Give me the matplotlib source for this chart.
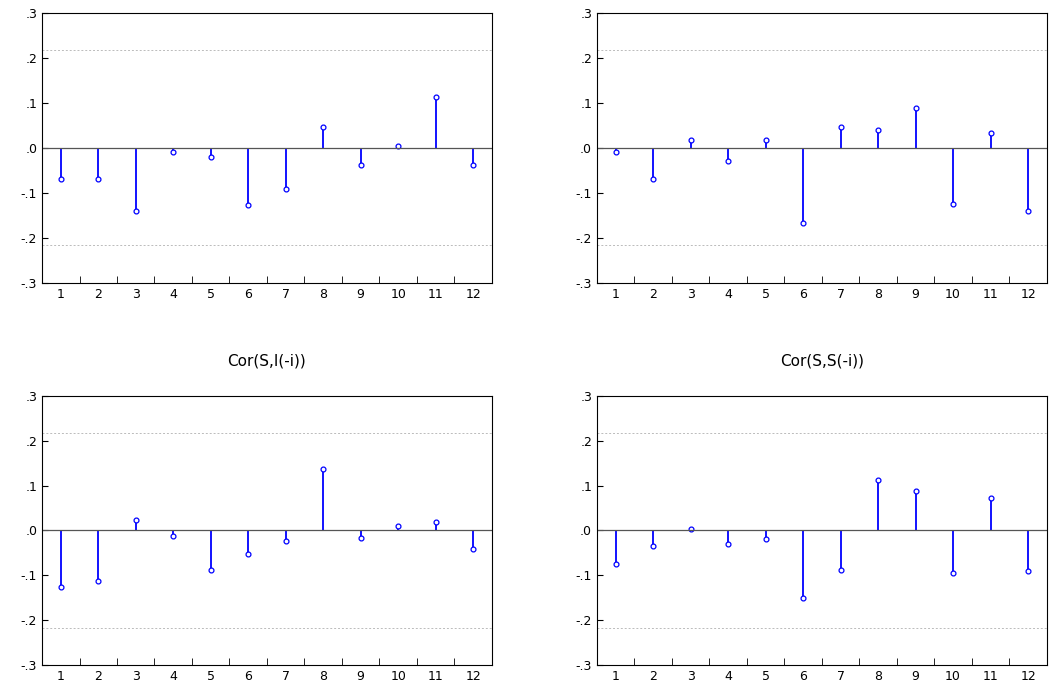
import numpy as np
import matplotlib.pyplot as plt
from matplotlib.ticker import FuncFormatter

lags = np.arange(1, 13)
tl = [-0.07, -0.07, -0.14, -0.008, -0.02, -0.128, -0.092, 0.047, -0.037, 0.005, 0.113, -0.038]
tr = [-0.01, -0.068, 0.018, -0.028, 0.017, -0.167, 0.046, 0.04, 0.088, -0.125, 0.034, -0.14]
bl = [-0.126, -0.112, 0.023, -0.012, -0.088, -0.052, -0.023, 0.137, -0.017, 0.01, 0.02, -0.042]
br = [-0.075, -0.035, 0.003, -0.03, -0.02, -0.15, -0.087, 0.113, 0.089, -0.095, 0.072, -0.09]
titles = ["", "", "Cor(S,I(-i))", "Cor(S,S(-i))"]
band = 0.217

fig = plt.figure(figsize=(10.51, 6.93), dpi=100)
boxes = [(0.040, 0.592), (0.568, 0.592), (0.040, 0.040), (0.568, 0.040)]
fmt = FuncFormatter(lambda v, p: ("%.1f" % v).replace("0.", ".") if abs(v) > 1e-9 else ".0")

for (x0, y0), vals, title in zip(boxes, [tl, tr, bl, br], titles):
    ax = fig.add_axes([x0, y0, 0.428, 0.389])
    ax.vlines(lags, 0, vals, color="blue", lw=1.3)
    ax.plot(lags, vals, "o", mfc="white", mec="blue", ms=3.5, mew=0.9)
    ax.axhline(0, color="#555555", lw=0.9)
    for b in (band, -band):
        ax.axhline(b, color="#bbbbbb", lw=0.7, ls=(0, (2, 2)))
    ax.set_xlim(0.5, 12.5)
    ax.set_ylim(-0.3, 0.3)
    ax.set_yticks(np.arange(-0.3, 0.31, 0.1))
    ax.yaxis.set_major_formatter(fmt)
    ax.set_xticks(lags)
    ax.set_xticks(np.arange(1.5, 12.5, 1), minor=True)
    ax.tick_params(axis="x", which="major", length=0, labelsize=9)
    ax.tick_params(axis="x", which="minor", length=5, direction="in")
    ax.tick_params(axis="y", labelsize=9, length=4, direction="in")
    if title:
        ax.set_title(title, fontsize=11, pad=22)

fig.savefig("out.png")
